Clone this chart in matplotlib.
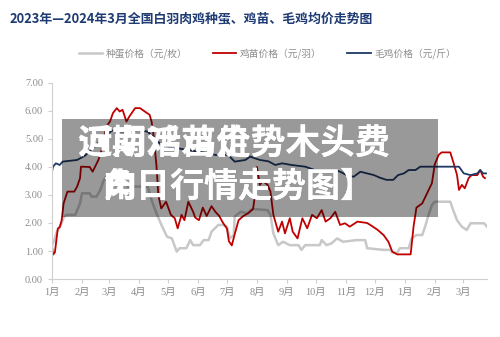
import matplotlib
matplotlib.use('Agg')
import matplotlib.pyplot as plt
from matplotlib.patches import Rectangle

plt.rcParams['font.family'] = ['Liberation Serif', 'Noto Sans CJK SC']

# x = day number counted from 2023-01-01
egg_days = [0, 2, 5, 10, 12, 15, 24, 29, 31, 39, 41, 46, 50, 53, 56, 62, 70, 79, 99,
            103, 108, 114, 119, 124, 129, 132, 139, 143, 146, 153, 157, 162, 165, 172,
            177, 181, 184, 188, 189, 195, 202, 207, 223, 226, 229, 234, 239, 246, 255,
            258, 262, 277, 279, 284, 289, 295, 301, 315, 324, 326, 343, 350, 352, 357,
            360, 369, 372, 377, 383, 386, 389, 393, 396, 412, 415, 419, 424, 429, 433,
            447, 450]
egg_price = [1.20, 1.35, 1.69, 1.99, 2.20, 2.29, 2.29, 2.70, 3.06, 3.06, 2.94, 2.94,
             3.18, 3.48, 3.65, 3.70, 3.50, 3.30, 3.30, 2.82, 2.35, 1.87, 1.51, 1.45,
             0.98, 1.10, 1.10, 1.39, 1.21, 1.21, 1.39, 1.39, 1.69, 1.93, 1.93, 1.87,
             1.45, 1.57, 2.23, 2.40, 2.35, 2.50, 2.46, 2.29, 1.63, 1.21, 1.33, 1.21,
             1.21, 1.04, 1.21, 1.21, 1.39, 1.21, 1.27, 1.45, 1.33, 1.39, 1.39, 1.10,
             1.04, 1.04, 0.94, 0.94, 1.10, 1.10, 1.45, 1.57, 1.57, 1.87, 2.23, 2.64,
             2.76, 2.76, 2.46, 2.10, 1.87, 1.75, 1.99, 1.99, 1.87]

chick_days = [0, 1, 3, 6, 8, 10, 12, 16, 23, 26, 29, 30, 39, 42, 48, 53, 56, 60, 63,
              67, 70, 73, 77, 80, 86, 91, 96, 101, 103, 105, 108, 110, 113, 118, 123,
              127, 130, 134, 137, 141, 146, 148, 152, 156, 160, 165, 169, 173, 177,
              181, 183, 186, 189, 193, 198, 203, 208, 210, 212, 215, 218, 223, 226,
              229, 234, 238, 241, 246, 249, 254, 259, 264, 269, 274, 279, 283, 288,
              293, 298, 303, 308, 316, 326, 332, 337, 343, 348, 352, 357, 371, 372,
              374, 377, 383, 388, 393, 396, 400, 403, 412, 415, 419, 421, 424, 427,
              431, 434, 440, 443, 446, 448]
chick_price = [1.20, 0.87, 0.95, 1.80, 1.85, 2.10, 2.70, 3.12, 3.12, 3.30, 3.60, 4.01,
               4.00, 3.83, 4.25, 4.79, 5.44, 5.62, 5.92, 6.10, 5.98, 6.04, 5.62, 5.80,
               6.10, 6.10, 5.98, 5.86, 5.62, 5.14, 4.07, 3.00, 2.52, 2.76, 2.29, 2.17,
               1.81, 2.29, 2.10, 2.76, 2.40, 2.20, 2.10, 2.55, 2.25, 2.60, 2.40, 2.25,
               2.00, 1.80, 1.35, 1.20, 1.60, 2.10, 2.25, 2.35, 2.50, 3.00, 4.00, 3.36,
               3.50, 3.36, 3.12, 2.29, 1.69, 2.05, 1.63, 2.17, 1.69, 1.45, 2.17, 1.81,
               2.29, 2.17, 2.46, 2.05, 2.17, 2.40, 1.93, 1.99, 1.87, 2.05, 2.00, 1.87,
               1.75, 1.57, 1.33, 0.98, 0.88, 0.88, 1.20, 1.87, 2.55, 2.70, 3.06, 3.42,
               4.10, 4.43, 4.52, 4.52, 4.19, 3.71, 3.18, 3.36, 3.24, 3.60, 3.71, 3.71,
               3.89, 3.65, 3.60]

broiler_days = [0, 1, 4, 8, 11, 26, 34, 45, 53, 62, 78, 89, 99, 107, 113, 122, 130,
                141, 151, 169, 182, 189, 200, 205, 215, 224, 231, 238, 248, 262, 272,
                293, 298, 305, 312, 319, 326, 333, 339, 346, 353, 358, 364, 369, 376,
                381, 421, 426, 433, 440, 443, 446, 449]
broiler_price = [3.83, 4.01, 4.13, 4.07, 4.19, 4.25, 4.40, 4.75, 5.05, 5.30, 5.25,
                 5.32, 5.26, 5.00, 4.79, 4.70, 4.67, 4.60, 4.55, 4.43, 4.43, 4.19,
                 4.25, 4.37, 4.25, 4.20, 4.07, 4.13, 4.07, 4.01, 3.89, 3.89, 3.83,
                 3.71, 3.65, 3.83, 3.77, 3.71, 3.62, 3.54, 3.54, 3.71, 3.77, 3.89,
                 3.89, 4.01, 4.01, 3.77, 3.71, 3.77, 3.89, 3.77, 3.77]

month_days = [0, 31, 59, 90, 120, 151, 181, 212, 243, 273, 304, 334, 365, 396, 425]
month_labels = ['1月', '2月', '3月', '4月', '5月', '6月', '7月', '8月', '9月',
                '10月', '11月', '12月', '1月', '2月', '3月']
y_ticks = [0, 1, 2, 3, 4, 5, 6, 7]

title = '2023年—2024年3月全国白羽肉鸡种蛋、鸡苗、毛鸡均价走势图'
legend_labels = ['种蛋价格（元/枚）', '鸡苗价格（元/羽）', '毛鸡价格（元/斤）']
overlay_line1 = ['近期鸡苗走势木头费', '河南活鸡价势木头费']
overlay_line2 = ['肉日行情走势图】', '角日行情走势图】']

fig = plt.figure(figsize=(5, 3.37), dpi=100)
ax = fig.add_axes([0.104, 0.172, 0.870, 0.582])

ax.plot(egg_days, egg_price, color='#c8c8c8', lw=1.8, label=legend_labels[0])
ax.plot(chick_days, chick_price, color='#c00000', lw=1.3, label=legend_labels[1])
ax.plot(broiler_days, broiler_price, color='#1f3864', lw=1.3, label=legend_labels[2])

ax.set_xlim(0, 450)
ax.set_ylim(0, 7)
ax.set_xticks(month_days)
ax.set_xticklabels(month_labels)
ax.set_yticks(y_ticks)
ax.set_yticklabels([f'{v:.2f}' for v in y_ticks])
for s in ['top', 'right']:
    ax.spines[s].set_visible(False)
for s in ['left', 'bottom']:
    ax.spines[s].set_color('#cfcfcf')
ax.tick_params(colors='#cfcfcf', labelcolor='#8c8c8c', labelsize=7.5, length=3)

fig.text(0.02, 0.947, title, fontsize=9.3, fontweight='bold', color='#1f3b73',
         family=['Noto Sans CJK SC'], va='center', ha='left')

fig.legend(loc='center', bbox_to_anchor=(0.535, 0.84), ncol=3, frameon=False,
           labelcolor='#8c8c8c', handlelength=2.4, handletextpad=0.4,
           columnspacing=2.6, prop={'family': ['Noto Sans CJK SC'], 'size': 7})

# grey caption box pasted over the chart
fig.add_artist(Rectangle((0.124, 0.356), 0.752, 0.291, transform=fig.transFigure,
                         facecolor='black', alpha=0.4, edgecolor='none', zorder=5))
for s in overlay_line1:
    fig.text(0.154, 0.573, s, fontsize=25, fontweight='black', color='white',
             family=['Noto Sans CJK SC'], va='center', ha='left', zorder=6)
for s in overlay_line2:
    fig.text(0.204, 0.448, s, fontsize=24.5, fontweight='black', color='white',
             family=['Noto Sans CJK SC'], va='center', ha='left', zorder=6)

fig.savefig('out.png', dpi=100)
